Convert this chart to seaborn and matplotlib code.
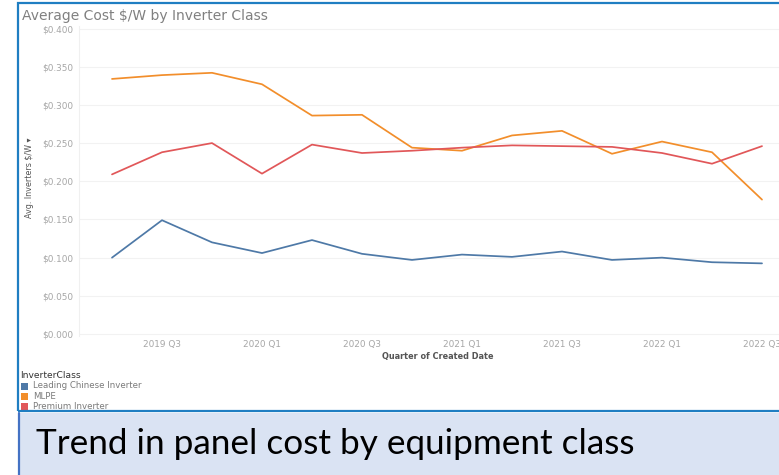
import matplotlib
matplotlib.use("Agg")
import matplotlib.pyplot as plt
import matplotlib.patches as mpatches
import pandas as pd
import seaborn as sns

# Quarterly average inverter cost ($/W) by class
quarters = ["2019 Q2", "2019 Q3", "2019 Q4", "2020 Q1", "2020 Q2", "2020 Q3", "2020 Q4",
            "2021 Q1", "2021 Q2", "2021 Q3", "2021 Q4", "2022 Q1", "2022 Q2", "2022 Q3"]
leading_chinese = [0.100, 0.149, 0.120, 0.106, 0.123, 0.105, 0.097,
                   0.104, 0.101, 0.108, 0.097, 0.100, 0.094, 0.0925]
mlpe = [0.334, 0.339, 0.342, 0.327, 0.286, 0.287, 0.244,
        0.240, 0.260, 0.266, 0.236, 0.252, 0.238, 0.176]
premium = [0.209, 0.238, 0.250, 0.210, 0.248, 0.237, 0.240,
           0.244, 0.247, 0.246, 0.245, 0.237, 0.223, 0.246]
classes = ["Leading Chinese Inverter", "MLPE", "Premium Inverter"]
colors = ["#4E79A7", "#F28E2B", "#E15759"]
tick_quarters = ["2019 Q3", "2020 Q1", "2020 Q3", "2021 Q1", "2021 Q3", "2022 Q1", "2022 Q3"]
y_ticks = [0.0, 0.05, 0.10, 0.15, 0.20, 0.25, 0.30, 0.35, 0.40]

rows = []
for cls, vals in zip(classes, [leading_chinese, mlpe, premium]):
    for i, (q, v) in enumerate(zip(quarters, vals)):
        rows.append({"idx": i, "Quarter": q, "InverterClass": cls, "Cost": v})
df = pd.DataFrame(rows)

sns.set_theme(style="white")
plt.rcParams["font.family"] = ["DejaVu Sans"]
NARROW = ["Liberation Sans Narrow", "DejaVu Sans"]

W, H = 779, 475
fig = plt.figure(figsize=(W / 100, H / 100), dpi=100)
fig.patch.set_facecolor("white")

def fx(px):
    return px / W

def fy(py):
    return 1 - py / H

# plot area (extends slightly past the right edge of the canvas)
ax_l, ax_r, ax_t, ax_b = 79, 795, 26, 336
ax = fig.add_axes([fx(ax_l), fy(ax_b), fx(ax_r - ax_l), (ax_b - ax_t) / H])
ax.set_facecolor("white")

sns.lineplot(data=df, x="idx", y="Cost", hue="InverterClass", hue_order=classes,
             palette=colors, linewidth=1.25, ax=ax, legend=False, sort=False)

ax.set_xlim(-0.66, 13.66)
ax.set_ylim(-0.0026, 0.4033)
ax.set_yticks(y_ticks)
ax.set_yticklabels([f"${v:.3f}" for v in y_ticks])
ax.set_xticks([quarters.index(q) for q in tick_quarters])
ax.set_xticklabels(tick_quarters)
ax.tick_params(axis="y", length=0, labelsize=6.4, labelcolor="#a6a6a6", pad=4)
ax.tick_params(axis="x", length=0, labelsize=6.4, labelcolor="#a6a6a6", pad=3)
ax.grid(axis="y", color="#f2f2f2", linewidth=0.8)
ax.set_axisbelow(True)
for side in ["top", "right", "bottom"]:
    ax.spines[side].set_visible(False)
ax.spines["left"].set_color("#f0f0f0")
ax.spines["left"].set_linewidth(0.8)
ax.set_xlabel("")
ax.set_ylabel("")

# titles and axis captions
fig.text(fx(22), fy(16), "Average Cost $/W by Inverter Class", fontsize=10,
         color="#808080", ha="left", va="center")
fig.text(fx(29), fy(178), "Avg. Inverters $/W \u25BE", fontsize=5.8, color="#555555",
         rotation=90, ha="center", va="center", family=NARROW)
fig.text(fx(438), fy(356), "Quarter of Created Date", fontsize=5.9, color="#555555",
         ha="center", va="center", fontweight="bold", family=NARROW)

# legend block
fig.text(fx(20), fy(376), "InverterClass", fontsize=6.6, color="#333333",
         ha="left", va="center", family=NARROW)
for k, (cls, col) in enumerate(zip(classes, colors)):
    yc = 386 + k * 10.3
    fig.patches.append(mpatches.Rectangle((fx(21), fy(yc + 3.5)), fx(7), 7 / H,
                                          transform=fig.transFigure, facecolor=col,
                                          edgecolor="none"))
    fig.text(fx(33), fy(yc), cls, fontsize=6.2, color="#7a7a7a", ha="left", va="center")

# dashboard frame
fig.patches.append(mpatches.Rectangle((fx(18), fy(411)), fx(800), (411 - 3) / H,
                                      transform=fig.transFigure, facecolor="none",
                                      edgecolor="#1F7EC2", linewidth=1.6))

# caption panel
fig.patches.append(mpatches.Rectangle((fx(18), 0), fx(800), (H - 413) / H,
                                      transform=fig.transFigure, facecolor="#DAE3F3",
                                      edgecolor="none"))
fig.add_artist(plt.Line2D([fx(19), fx(19)], [0, fy(413)], transform=fig.transFigure,
                          color="#4472C4", linewidth=1.6))
fig.text(fx(36), fy(444), "Trend in panel cost by equipment class", fontsize=25.3,
         color="black", ha="left", va="center", family=["Lato", "DejaVu Sans"])

fig.savefig("out.png", dpi=100, facecolor="white")
